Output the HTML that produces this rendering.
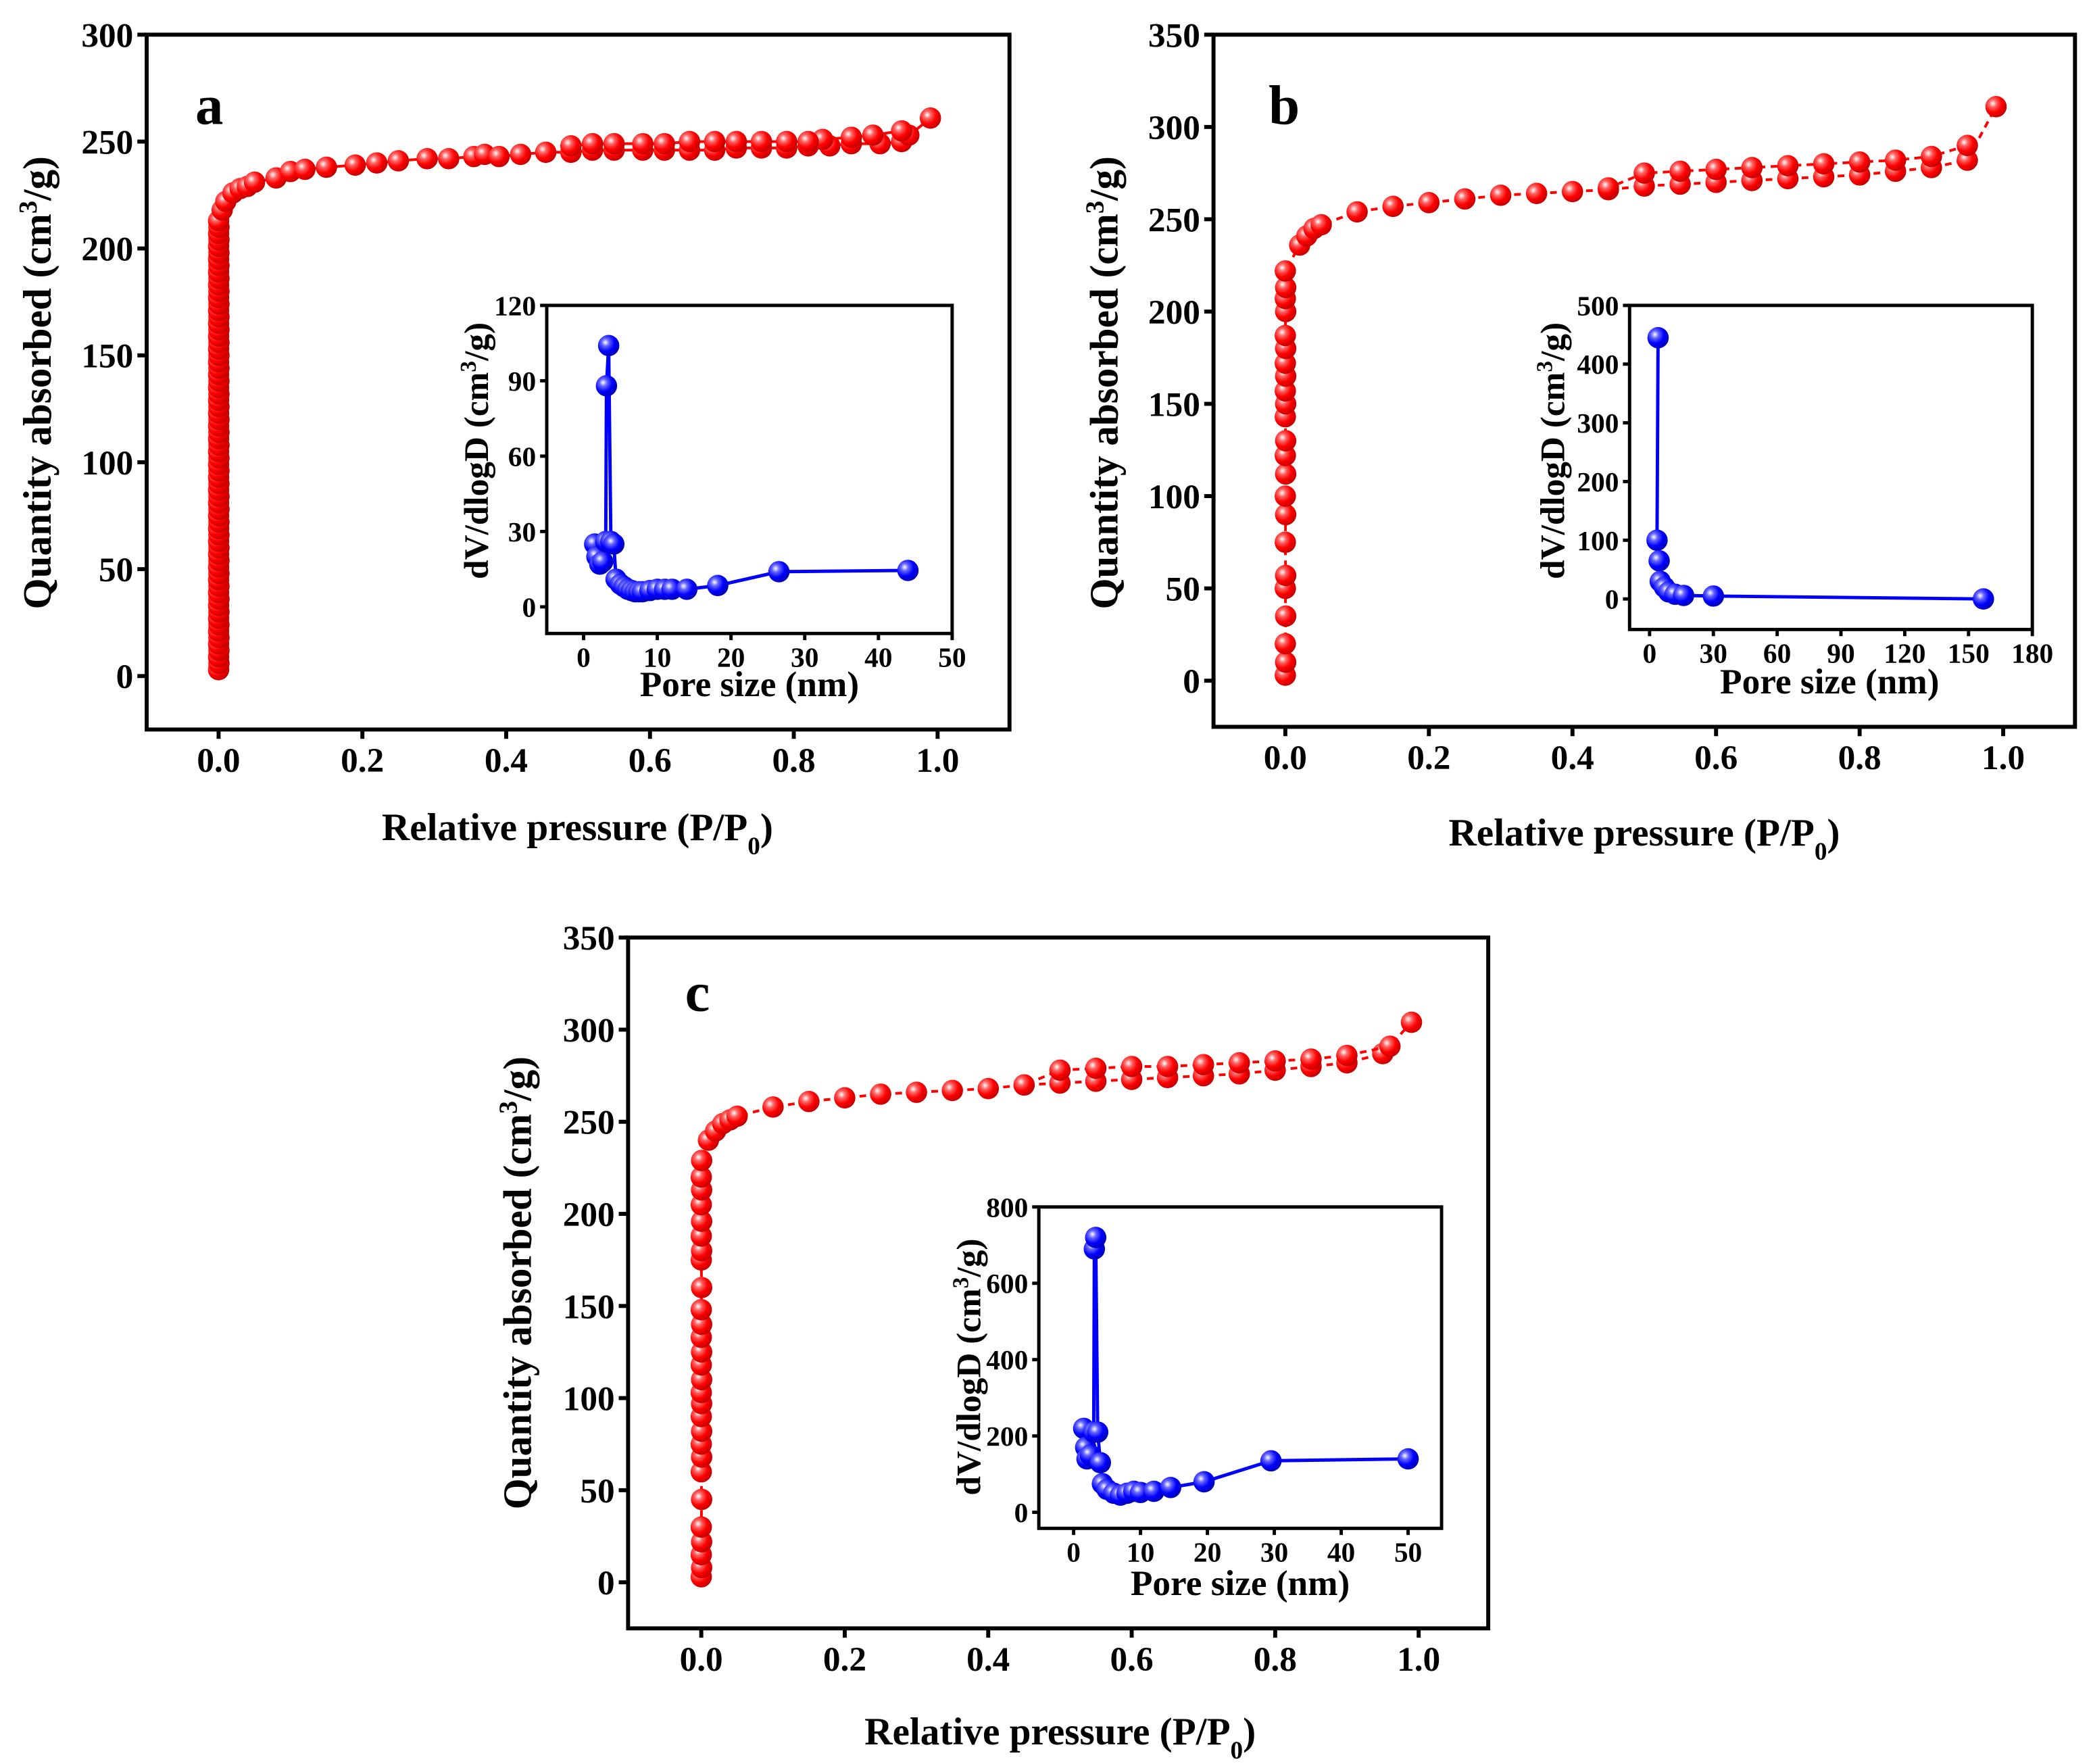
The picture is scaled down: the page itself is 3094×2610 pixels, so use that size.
<!DOCTYPE html>
<html><head><meta charset="utf-8"><style>
html,body{margin:0;padding:0;background:#fff;}
svg{display:block;}
text{font-family:"Liberation Serif",serif;font-weight:bold;fill:#000;}
</style></head><body>
<svg id="fig" xmlns="http://www.w3.org/2000/svg" width="3094" height="2610" viewBox="0 0 1568 1322.7" preserveAspectRatio="none">
<defs>
<radialGradient id="gr" cx="0.35" cy="0.35" r="0.7"><stop offset="0" stop-color="#fff"/><stop offset="0.25" stop-color="#ff6666"/><stop offset="0.6" stop-color="#ff0000"/><stop offset="1" stop-color="#c00000"/></radialGradient>
<radialGradient id="gb" cx="0.35" cy="0.35" r="0.7"><stop offset="0" stop-color="#fff"/><stop offset="0.25" stop-color="#6666ff"/><stop offset="0.6" stop-color="#0000ff"/><stop offset="1" stop-color="#0000b0"/></radialGradient>
</defs>
</svg>
<script>
// ---------- data ----------
const aAdsX=[0.005,0.01,0.02,0.03,0.04,0.05,0.08,0.1,0.12,0.15,0.19,0.22,0.25,0.29,0.32,0.355,0.37,0.39,0.42,0.455,0.49,0.52,0.55,0.59,0.62,0.655,0.69,0.72,0.755,0.79,0.82,0.85,0.88,0.92,0.95,0.99];
const aAdsY=[218,222,226,228,229,231,233,236,237,238,239,240,241,242,242,243,244,243,244,245,245,246,246,246,246,246,246,247,247,247,248,248,249,249,250,261];
const aDesX=[0.96,0.95,0.91,0.88,0.84,0.82,0.79,0.755,0.72,0.69,0.655,0.62,0.59,0.55,0.52,0.49];
const aDesY=[253,255,253,252,251,250,250,250,250,250,250,249,249,249,249,248];
const aLowY=[3,6,9,12,15,18,21,24,27,30,33,36,39,42,45,48,51,54,57,60,63,66,69,72,75,78,81,84,87,90,93,96,99,102,105,108,111,114,117,120,123,126,129,132,135,138,141,144,147,150,153,156,159,162,165,168,171,174,177,180,183,186,189,192,195,198,201,204,207,210,213];
const aPoreX=[1.5,1.8,2.2,2.6,3.0,3.1,3.4,3.7,4.1,4.4,5,5.5,6,6.5,7,7.5,8,9,10,11,12,14,18.2,26.5,44];
const aPoreY=[25,20,17,18,26,88,104,26,25,11,9,8,7,6.5,6,6,6,6.5,7,7,7,7,8.5,14,14.5];

const bLowY=[3,10,20,35,50,57,75,90,100,112,122,130,143,150,157,165,172,180,187,200,207,213,222];
const bAdsX=[0.02,0.03,0.04,0.05,0.1,0.15,0.2,0.25,0.3,0.35,0.4,0.45,0.5,0.55,0.6,0.65,0.7,0.75,0.8,0.85,0.9,0.95,0.99];
const bAdsY=[236,241,245,247,254,257,259,261,263,264,265,266,268,269,270,271,272,273,274,276,278,282,311];
const bDesX=[0.95,0.9,0.85,0.8,0.75,0.7,0.65,0.6,0.55,0.5,0.45];
const bDesY=[290,284,282,281,280,279,278,277,276,275,267];
const bPoreX=[4,3.5,4.5,5,7,9,12,16,30,157];
const bPoreY=[445,100,65,30,20,12,8,6,5,0];

const cLowY=[3,8,15,22,30,45,60,68,75,82,90,97,103,110,118,125,133,140,148,160,175,180,188,196,205,213,220,229];
const cAdsX=[0.01,0.02,0.03,0.04,0.05,0.1,0.15,0.2,0.25,0.3,0.35,0.4,0.45,0.5,0.55,0.6,0.65,0.7,0.75,0.8,0.85,0.9,0.95,0.99];
const cAdsY=[240,245,249,251,253,258,261,263,265,266,267,268,270,271,272,273,274,275,276,278,280,282,287,304];
const cDesX=[0.96,0.9,0.85,0.8,0.75,0.7,0.65,0.6,0.55,0.5,0.45];
const cDesY=[291,286,284,283,282,281,280,280,279,278,270];
const cPoreX=[1.5,1.8,2,2.5,3,3.1,3.3,3.6,4,4.3,5,6,7,8,9,10,12,14.5,19.5,29.5,50];
const cPoreY=[220,170,140,150,210,690,720,210,130,75,60,50,45,50,55,52,55,65,80,135,140];

const mainXTicks=["0.0","0.2","0.4","0.6","0.8","1.0"];
const aYTicks=[0,50,100,150,200,250,300];
const bcYTicks=[0,50,100,150,200,250,300,350];
const aPoreTicksX=[0,10,20,30,40,50];const aPoreTicksY=[0,30,60,90,120];
const bPoreTicksX=[0,30,60,90,120,150,180];const bPoreTicksY=[0,100,200,300,400,500];
const cPoreTicksX=[0,10,20,30,40,50];const cPoreTicksY=[0,200,400,600,800];

// ---------- helpers ----------
const NS="http://www.w3.org/2000/svg";const svg=document.getElementById('fig');
function el(tag,attrs,parent,txt){const e=document.createElementNS(NS,tag);for(const k in attrs)e.setAttribute(k,attrs[k]);if(txt!==undefined)e.textContent=txt;(parent||svg).appendChild(e);return e;}
function axes(o){
  const g=el('g',{});
  
  
  const sx=v=>o.x0+(v-o.xmin)/(o.xmax-o.xmin)*(o.x1-o.x0);
  const sy=v=>o.y1-(v-o.ymin)/(o.ymax-o.ymin)*(o.y1-o.y0);
  const fr=el('rect',{x:o.x0,y:o.y0,width:o.x1-o.x0,height:o.y1-o.y0,fill:'none',stroke:'#000','stroke-width':o.lw},g);
  
  
  o.xt.forEach(t=>{const v=parseFloat(t);const x=sx(v);
    el('line',{x1:x,x2:x,y1:o.y1,y2:o.y1+o.tl,stroke:'#000','stroke-width':o.lw},g);
    const tx=el('text',{x:x,y:o.y1+o.tl+o.fs*0.95,'font-size':o.fs,'text-anchor':'middle'},g,t);
    
    });
  o.yt.forEach(v=>{const y=sy(v);
    el('line',{x1:o.x0-o.tl,x2:o.x0,y1:y,y2:y,stroke:'#000','stroke-width':o.lw},g);
    const tx=el('text',{x:o.x0-o.tl-3,y:y+o.fs*0.35,'font-size':o.fs,'text-anchor':'end'},g,String(v));
    
    });
  return {g,sx,sy};
}
function series(ax,xs,ys,grad,r,color,dash,name,lw){
  const pts=xs.map((x,i)=>[ax.sx(x),ax.sy(ys[i])]);
  const p=el('polyline',{points:pts.map(q=>q.join(',')).join(' '),fill:'none',stroke:color,'stroke-width':lw||2,'stroke-dasharray':dash||'none'},ax.g);
  
  
  pts.forEach(q=>{const c=el('circle',{cx:q[0],cy:q[1],r:r,fill:'url(#'+grad+')'},ax.g);
    
    });
}
function label(txt,x,y,fs,rot,name){
  const t=el('text',{x:x,y:y,'font-size':fs,'text-anchor':'middle',transform:rot?`rotate(-90 ${x} ${y})`:''});
  
  
  txt.forEach(part=>{const s=el('tspan',{},t,part[0]);if(part[1]==='sup'){s.setAttribute('baseline-shift','super');s.setAttribute('font-size',fs*0.65);}if(part[1]==='sub'){s.setAttribute('baseline-shift','sub');s.setAttribute('font-size',fs*0.65);}});
}
const yTitle=[["Quantity absorbed (cm"],["3","sup"],["/g)"]];
const xTitle=[["Relative pressure (P/P"],["0","sub"],[")"]];
const pTitle=[["dV/dlogD (cm"],["3","sup"],["/g)"]];
const px=[["Pore size (nm)"]];
const low=(arr)=>arr.map((_,i)=>0.0005*(i%2));

// ---------- panel a ----------
let A=axes({name:'panel-a',x0:110,x1:757,y0:26,y1:547,xmin:-0.1,xmax:1.1,ymin:-25,ymax:300,xt:mainXTicks,yt:aYTicks,fs:26,tl:7,lw:3});
series(A,low(aLowY).concat(aAdsX),aLowY.concat(aAdsY),'gr',8,'#f00',null,'a-adsorption');
series(A,aDesX,aDesY,'gr',8,'#f00',null,'a-desorption');
label([["a"]],157,93,42,false,'panel-a-letter');
label(yTitle,38,287,30,true,'a-y-axis-title');
label(xTitle,433,630,29,false,'a-x-axis-title');
let AI=axes({name:'inset-a',x0:410,x1:714,y0:229,y1:475,xmin:-5,xmax:50,ymin:-10.6,ymax:120,xt:aPoreTicksX.map(String),yt:aPoreTicksY,fs:21,tl:5,lw:2.5});
series(AI,aPoreX,aPoreY,'gb',8,'#00f',null,'a-pore',2.5);
label(pTitle,366,338,26,true,'a-inset-y-title');
label(px,562,522,27,false,'a-inset-x-title');

// ---------- panel b ----------
let B=axes({name:'panel-b',x0:910,x1:1556,y0:26,y1:545,xmin:-0.1,xmax:1.1,ymin:-25,ymax:350,xt:mainXTicks,yt:bcYTicks,fs:26,tl:7,lw:3});
series(B,low(bLowY).concat(bAdsX),bLowY.concat(bAdsY),'gr',8,'#f00','5,4','b-adsorption');
series(B,bDesX,bDesY,'gr',8,'#f00','5,4','b-desorption');
label([["b"]],963,93,42,false,'panel-b-letter');
label(yTitle,838,287,30,true,'b-y-axis-title');
label(xTitle,1233,634,29,false,'b-x-axis-title');
let BI=axes({name:'inset-b',x0:1222,x1:1524,y0:229,y1:472,xmin:-9.4,xmax:180,ymin:-52,ymax:500,xt:bPoreTicksX.map(String),yt:bPoreTicksY,fs:21,tl:5,lw:2.5});
series(BI,bPoreX,bPoreY,'gb',8,'#00f',null,'b-pore',2.5);
label(pTitle,1173,338,26,true,'b-inset-y-title');
label(px,1372,520,27,false,'b-inset-x-title');

// ---------- panel c ----------
let C=axes({name:'panel-c',x0:471,x1:1116,y0:703,y1:1221,xmin:-0.102,xmax:1.097,ymin:-25,ymax:350,xt:mainXTicks,yt:bcYTicks,fs:26,tl:7,lw:3});
series(C,low(cLowY).concat(cAdsX),cLowY.concat(cAdsY),'gr',8,'#f00','5,4','c-adsorption');
series(C,cDesX,cDesY,'gr',8,'#f00','5,4','c-desorption');
label([["c"]],523,758,42,false,'panel-c-letter');
label(yTitle,398,962,30,true,'c-y-axis-title');
label(xTitle,795,1308,29,false,'c-x-axis-title');
let CI=axes({name:'inset-c',x0:779,x1:1081,y0:905,y1:1146,xmin:-5.2,xmax:55,ymin:-42,ymax:800,xt:cPoreTicksX.map(String),yt:cPoreTicksY,fs:21,tl:5,lw:2.5});
series(CI,cPoreX,cPoreY,'gb',8,'#00f',null,'c-pore',2.5);
label(pTitle,735,1025,26,true,'c-inset-y-title');
label(px,930,1196,27,false,'c-inset-x-title');
</script>
</body></html>
